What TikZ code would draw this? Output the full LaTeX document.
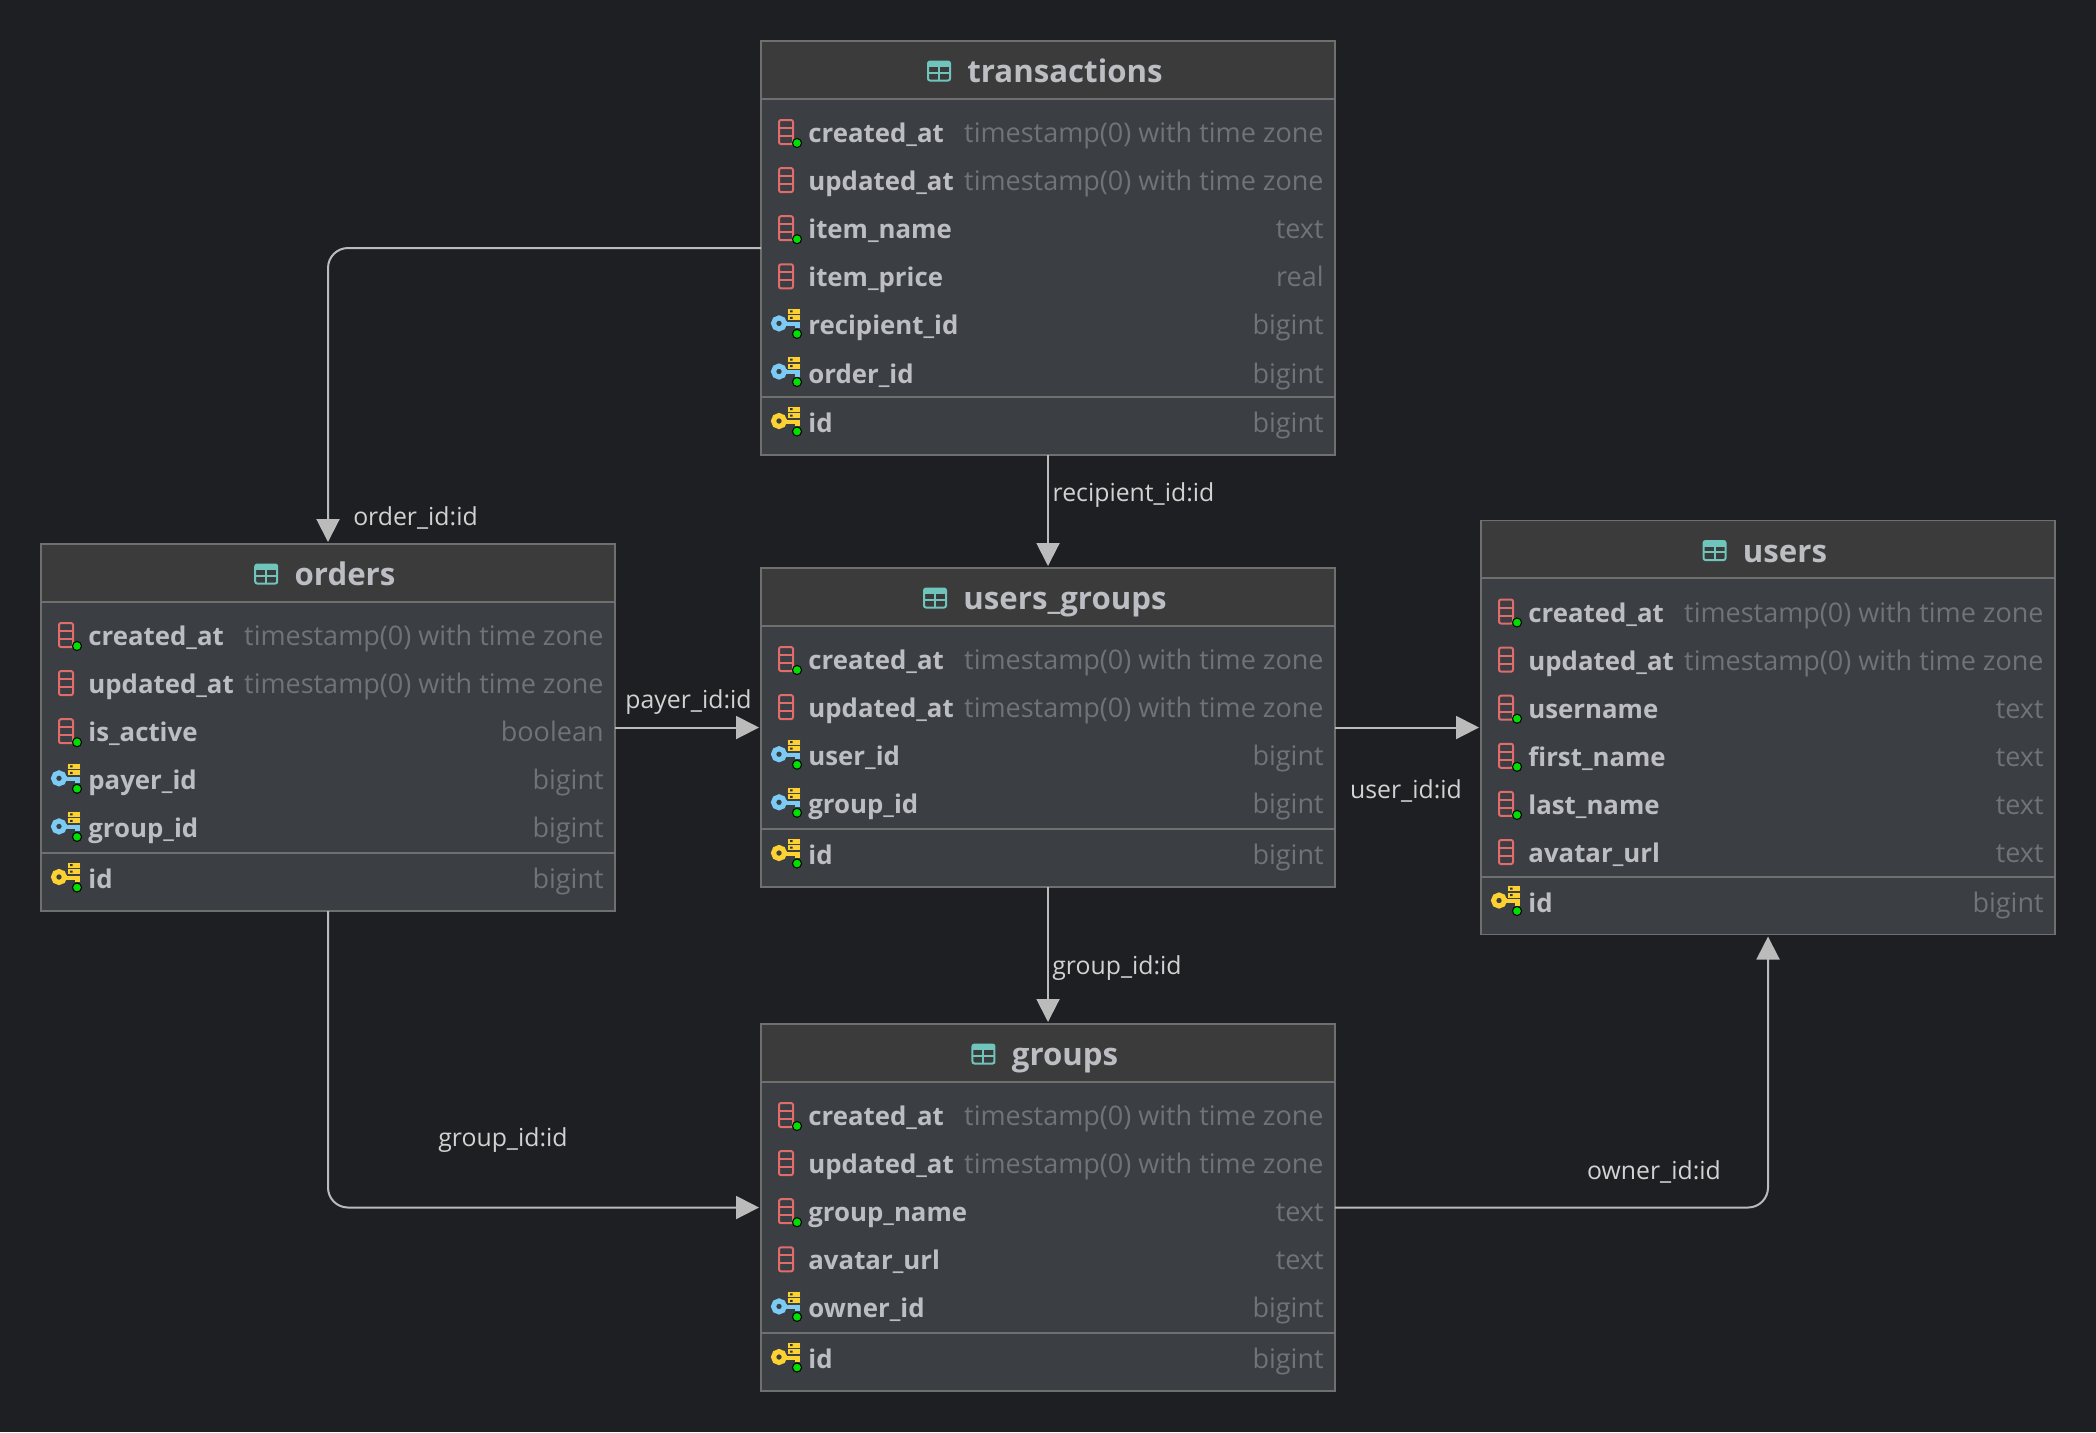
\documentclass[tikz,border=0pt]{standalone}
\usepackage{fontspec}
\setmainfont{Open Sans}
\usetikzlibrary{arrows.meta}

\definecolor{bgcol}{HTML}{1E1F22}
\definecolor{headcol}{HTML}{3B3B3B}
\definecolor{bodycol}{HTML}{3B3E42}
\definecolor{edgecol}{HTML}{6F6F6F}
\definecolor{textcol}{HTML}{BCBEC4}
\definecolor{typecol}{HTML}{6F737A}
\definecolor{linkcol}{HTML}{BBBBBB}
\definecolor{labelcol}{HTML}{D2D2D2}
\definecolor{colred}{HTML}{E06C6C}
\definecolor{tabteal}{HTML}{6FC4BB}
\definecolor{keyblue}{HTML}{7BCBF5}
\definecolor{keyyellow}{HTML}{FBD232}
\definecolor{dotgreen}{HTML}{00E000}

\tikzset{
 tablebox/.style={draw=edgecol,line width=0.6pt,fill=bodycol,anchor=north west,
  minimum width=287pt,inner sep=0pt,outer sep=0pt},
 titletext/.style={anchor=base,text=textcol,font=\fontsize{15.6}{18}\selectfont\bfseries,inner sep=0pt},
 fieldtext/.style={anchor=base west,text=textcol,font=\fontsize{12.9}{14}\selectfont\bfseries,inner sep=0pt},
 typetext/.style={anchor=base east,text=typecol,font=\fontsize{13.5}{14}\selectfont,inner sep=0pt},
 linklabel/.style={text=labelcol,font=\fontsize{12.4}{14}\selectfont,inner sep=0pt},
 link/.style={draw=linkcol,line width=1pt,rounded corners=10pt,shorten >=1pt,
  -{Triangle[length=11.5pt,width=11.5pt,fill=linkcol]}},
 greendot/.pic={\fill[dotgreen,draw=black,line width=0.5pt] (0,0) circle (4.5);},
 tabicon/.pic={
  \draw[tabteal,line width=1pt,rounded corners=1pt] (-11,-9.5) rectangle (11,9.5);
  \fill[tabteal] (-11,-9.5) rectangle (11,-4);
  \draw[tabteal,line width=1pt] (-11,1.5)--(11,1.5) (0,-5)--(0,9.5);
 },
 colicon/.pic={
  \draw[colred,line width=1pt,rounded corners=1pt] (-7,-12) rectangle (7,12);
  \draw[colred,line width=1pt] (-7,-4)--(7,-4) (-7,4)--(7,4);
 },
 keyicon/.pic={
  \draw[pic actions,line width=2.5pt,fill=none] (-10,-1) circle (5.5);
  \draw[pic actions,line width=2.5pt] (-4,-1)--(11,-1) (8,-1)--(8,4);
  \fill[black!75] (-2,-16.5) rectangle (12,-2.5);
  \fill[keyyellow] (-1,-15.5) rectangle (11,-10.5);
  \fill[keyyellow] (-1,-9) rectangle (11,-4);
  \fill[black!80] (1,-14) rectangle (3.5,-12) (1,-7.5) rectangle (3.5,-5.5);
 },
}

% #1 name, #2 left, #3 top, #4 height, #5 title, #6 rows, #7 type of id
\newcommand{\dbtable}[7]{
 \node[tablebox,minimum height=0.5pt*#4] (#1) at (#2,#3) {};
 \fill[headcol] ({#2+1},{#3+1}) rectangle ({#2+573},{#3+57});
 \draw[edgecol,line width=1pt] (#2,{#3+57.5})--({#2+574},{#3+57.5});
 \draw[edgecol,line width=1pt] (#2,{#3+#4-58})--({#2+574},{#3+#4-58});
 \node[titletext] (#1-title) at ({#2+304},{#3+41.5}) {#5};
 \path ([xshift=-14pt]#1-title.base west) ++(0,-11.5) pic {tabicon};
 \foreach \ic/\fn/\ty [count=\i] in {#6}{
  \pgfmathsetmacro{\rowy}{#3+91+48.1*(\i-1)}
  \node[fieldtext] (#1-f\i) at ({#2+47},{\rowy+10.5}) {\fn};
  \node[typetext] (#1-t\i) at ({#2+563},{\rowy+10.5}) {\ty};
  \ifnum\ic=0 \path ({#2+25},\rowy) pic {colicon}; \fi
  \ifnum\ic=1 \path ({#2+25},\rowy) pic {colicon} ({#2+36},{\rowy+11}) pic {greendot}; \fi
  \ifnum\ic=2 \path ({#2+28},\rowy) pic[keyblue] {keyicon} ({#2+36},{\rowy+9.5}) pic {greendot}; \fi
 }
 \node[fieldtext] (#1-id) at ({#2+47},{#3+#4-22.5}) {id};
 \node[typetext] (#1-idt) at ({#2+563},{#3+#4-22.5}) {#7};
 \path ({#2+28},{#3+#4-33}) pic[keyyellow] {keyicon} ({#2+36},{#3+#4-23.5}) pic {greendot};
}

\begin{document}
\begin{tikzpicture}[x=0.5pt,y=-0.5pt,>=stealth]
 \fill[bgcol] (0,0) rectangle (2096,1432);
 \useasboundingbox (0,0) rectangle (2096,1432);

 \dbtable{transactions}{761}{41}{414}{transactions}{
  1/created\_at/timestamp(0) with time zone,
  0/updated\_at/timestamp(0) with time zone,
  1/item\_name/text,
  0/item\_price/real,
  2/recipient\_id/bigint,
  2/order\_id/bigint}{bigint}
 \dbtable{orders}{41}{544}{367}{orders}{
  1/created\_at/timestamp(0) with time zone,
  0/updated\_at/timestamp(0) with time zone,
  1/is\_active/boolean,
  2/payer\_id/bigint,
  2/group\_id/bigint}{bigint}
 \dbtable{users_groups}{761}{568}{319}{users\_groups}{
  1/created\_at/timestamp(0) with time zone,
  0/updated\_at/timestamp(0) with time zone,
  2/user\_id/bigint,
  2/group\_id/bigint}{bigint}
 \dbtable{users}{1481}{520.5}{414}{users}{
  1/created\_at/timestamp(0) with time zone,
  0/updated\_at/timestamp(0) with time zone,
  1/username/text,
  1/first\_name/text,
  1/last\_name/text,
  0/avatar\_url/text}{bigint}
 \dbtable{groups}{761}{1024}{367}{groups}{
  1/created\_at/timestamp(0) with time zone,
  0/updated\_at/timestamp(0) with time zone,
  1/group\_name/text,
  0/avatar\_url/text,
  2/owner\_id/bigint}{bigint}

 % links
 \draw[link] (transactions.west) -| (orders.north);
 \draw[link] (transactions.south) -- (users_groups.north);
 \draw[link] (orders.east) -- (users_groups.west);
 \draw[link] (users_groups.east) -- (users.west);
 \draw[link] (users_groups.south) -- (groups.north);
 \draw[link] (orders.south) |- (groups.west);
 \draw[link] (groups.east) -| (users.south);

 \node[linklabel] (lborder) at (415.5,518) {order\_id:id};
 \node[linklabel] (lbrecipient) at (1133.5,495) {recipient\_id:id};
 \node[linklabel] (lbpayer) at (688.5,702) {payer\_id:id};
 \node[linklabel] (lbuser) at (1406,791) {user\_id:id};
 \node[linklabel] (lbgroupa) at (1117,968) {group\_id:id};
 \node[linklabel] (lbgroupb) at (503,1140) {group\_id:id};
 \node[linklabel] (lbowner) at (1654,1172) {owner\_id:id};
\end{tikzpicture}
\end{document}
